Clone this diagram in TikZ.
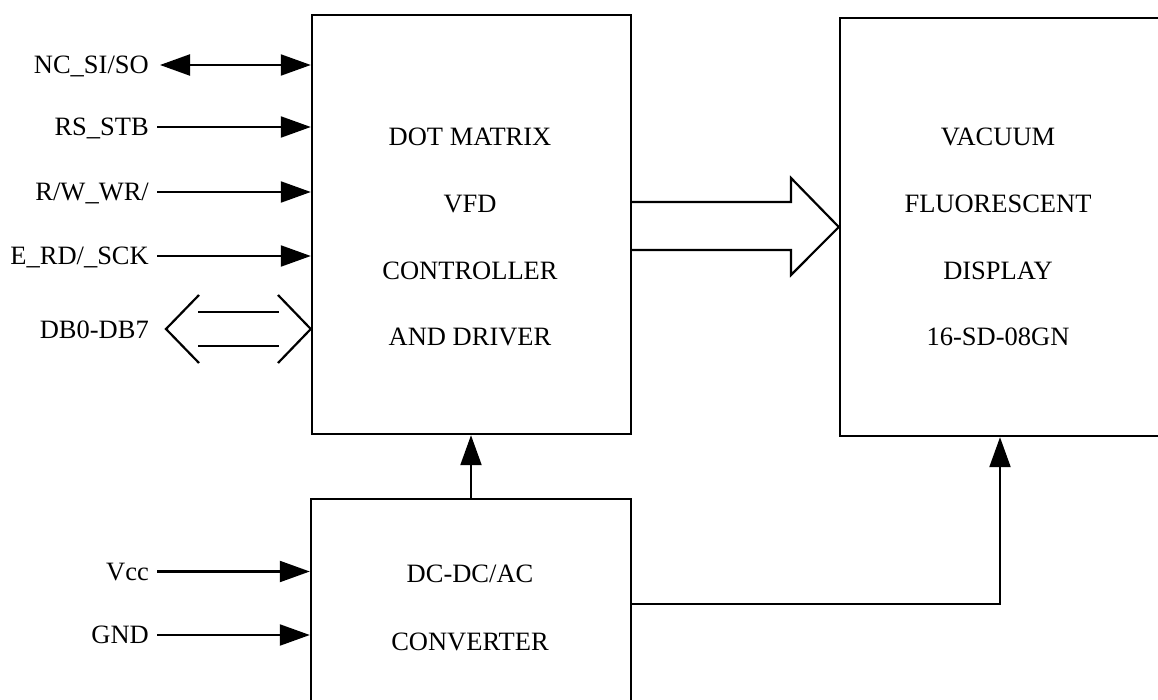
\documentclass[tikz,border=0pt]{standalone}
\usepackage{fontspec}
\setmainfont{Liberation Serif}
\usetikzlibrary{arrows.meta,calc}
\tikzset{
  box/.style={draw,line width=2.4pt,inner sep=0pt,rectangle},
  txt/.style={font=\fontsize{26.5}{30}\selectfont,inner sep=0pt,anchor=base},
  lbl/.style={font=\fontsize{26.5}{30}\selectfont,inner sep=0pt,anchor=base east},
  sig/.style={line width=2.2pt,-{Triangle[length=30pt 0,width=21pt 0]}},
  bisig/.style={line width=2.2pt,{Triangle[length=30pt 0,width=21pt 0]}-{Triangle[length=30pt 0,width=21pt 0]}},
  hollow/.style={line width=2.2pt,line join=miter},
  bus/.style={line width=2.2pt}
}
\begin{document}
\begin{tikzpicture}[x=1pt,y=-1pt]
\path[use as bounding box] (0,0) rectangle (1158,700);
\clip (0,0) rectangle (1158,700);
% boxes
\node[box,minimum width=319pt,minimum height=419pt] (ctrl) at (471.5,224.5) {};
\node[box,minimum width=322pt,minimum height=418pt] (vfd) at (1001,227) {};
\node[box,minimum width=320pt,minimum height=222pt] (conv) at (471,610) {};
% box texts
\node[txt] (c1) at (470,145.5) {DOT MATRIX};
\node[txt] (c2) at (470,212.5) {VFD};
\node[txt] (c3) at (470,280) {CONTROLLER};
\node[txt] (c4) at (470,345.5) {AND DRIVER};
\node[txt] (v1) at (998,145.5) {VACUUM};
\node[txt] (v2) at (998,212.5) {FLUORESCENT};
\node[txt] (v3) at (998,280) {DISPLAY};
\node[txt] (v4) at (998,345.5) {16-SD-08GN};
\node[txt] (k1) at (470,582.5) {DC-DC/AC};
\node[txt] (k2) at (470,650) {CONVERTER};
% labels
\node[lbl] (l1) at (149,73.8) {NC\_SI/SO};
\node[lbl] (l2) at (149,135.8) {RS\_STB};
\node[lbl] (l3) at (149,200.8) {R/W\_WR/};
\node[lbl] (l4) at (149,264.8) {E\_RD/\_SCK};
\node[lbl] (l5) at (149,338.5) {DB0-DB7};
\node[lbl] (l6) at (149,580.3) {Vcc};
\node[lbl] (l7) at (149,643.8) {GND};
% signal start points
\coordinate (s1) at (160,65);
\coordinate (s2) at (157,127);
\coordinate (s3) at (157,192);
\coordinate (s4) at (157,256);
\coordinate (s6) at (157,571.5);
\coordinate (s7) at (157,635);
\draw[bisig] (s1) -- (ctrl.west |- s1);
\draw[sig] (s2) -- (ctrl.west |- s2);
\draw[sig] (s3) -- (ctrl.west |- s3);
\draw[sig] (s4) -- (ctrl.west |- s4);
\draw[sig] (s6) -- (conv.west |- s6);
\draw[sig] (s7) -- (conv.west |- s7);
% data bus hollow double arrow
\coordinate (db) at (166,329);
\draw[hollow] (199,295) -- (db) -- (199,363);
\draw[bus] (198,312) -- (279,312);
\draw[bus] (198,346) -- (279,346);
\draw[hollow] (278,295) -- (ctrl.west |- db) -- (278,363);
% big hollow arrow controller -> display
\coordinate (bt) at (0,227);
\draw[hollow] (ctrl.east |- 0,202) -- (791,202) -- (791,178) -- (vfd.west |- bt) -- (791,275) -- (791,250) -- (ctrl.east |- 0,250);
% power arrows
\draw[sig] (conv.north) -- (ctrl.south -| conv.north);
\coordinate (p1) at (1000,604);
\draw[sig] (conv.east |- p1) -- (p1) -- (vfd.south -| p1);
\end{tikzpicture}
\end{document}
